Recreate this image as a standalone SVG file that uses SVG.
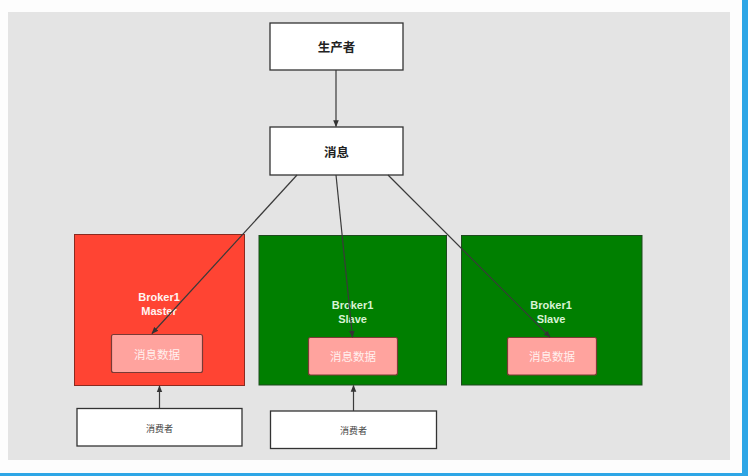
<svg xmlns="http://www.w3.org/2000/svg" width="748" height="476" viewBox="0 0 748 476">
<defs>
<marker id="ah" viewBox="0 0 10 10" refX="9" refY="5" markerWidth="7" markerHeight="7" orient="auto" markerUnits="userSpaceOnUse">
<path d="M0,1 L10,5 L0,9 Z" fill="#333"/>
</marker>
<style>
.box{fill:#ffffff;stroke:#333;stroke-width:1.3}
.red{fill:#ff4433;stroke:#8a2a20;stroke-width:1}
.green{fill:#007f00;stroke:#1f4a1f;stroke-width:1}
.inner{fill:#ffa39e;stroke:#7a3a35;stroke-width:1.2}
.edge{stroke:#3a3a3a;stroke-width:1.2;fill:none;marker-end:url(#ah)}
text{font-family:"Noto Sans CJK SC","Liberation Sans",sans-serif;text-anchor:middle;dominant-baseline:central}
.t1{font-size:12.5px;font-weight:bold;fill:#222}
.tb{font-family:"Liberation Sans","Noto Sans CJK SC",sans-serif;font-size:11px;font-weight:bold}
.ti{font-size:11.5px;fill:#fff0ee}
.tc{font-size:9px;fill:#444}
</style>
</defs>
<rect x="0" y="0" width="748" height="476" fill="#fdfdfd"/>
<rect x="742" y="0" width="6" height="476" fill="#2ea6e6"/>
<rect x="0" y="473" width="748" height="3" fill="#2ea6e6"/>
<rect x="8" y="12" width="722" height="448" fill="#e4e4e4"/>
<g id="producer">
<rect class="box" x="270" y="23" width="133" height="47"/>
<text class="t1" x="336.5" y="46.5">生产者</text>
</g>
<g id="message">
<rect class="box" x="270" y="127" width="133" height="48"/>
<text class="t1" x="336.5" y="151">消息</text>
</g>
<g id="master">
<rect class="red" x="74.5" y="234.5" width="170" height="151"/>
<text class="tb" x="159" y="297" fill="#fff4f2">Broker1</text>
<text class="tb" x="159" y="311" fill="#fff4f2">Master</text>
<rect class="inner" x="111.5" y="334.5" width="91" height="38" rx="2"/>
<text class="ti" x="157" y="353.5">消息数据</text>
</g>
<g id="slave1">
<rect class="green" x="259" y="235.5" width="187.5" height="149.5"/>
<text class="tb" x="352.5" y="304.5" fill="#d8f2d4">Broker1</text>
<text class="tb" x="352.5" y="318.5" fill="#d8f2d4">Slave</text>
<rect class="inner" x="308.5" y="337.5" width="89" height="37.5" rx="2"/>
<text class="ti" x="353" y="356">消息数据</text>
</g>
<g id="slave2">
<rect class="green" x="461.5" y="235.5" width="180.5" height="149.5"/>
<text class="tb" x="551" y="304.5" fill="#d8f2d4">Broker1</text>
<text class="tb" x="551" y="318.5" fill="#d8f2d4">Slave</text>
<rect class="inner" x="507.5" y="337.5" width="89" height="37.5" rx="2"/>
<text class="ti" x="552" y="356">消息数据</text>
</g>
<g id="consumer1">
<rect class="box" x="77" y="408.5" width="165" height="37.5"/>
<text class="tc" x="159.5" y="428">消费者</text>
</g>
<g id="consumer2">
<rect class="box" x="270.5" y="411" width="166" height="37.5"/>
<text class="tc" x="353.5" y="430.5">消费者</text>
</g>
<g id="connectors">
<line class="edge" x1="336" y1="70" x2="336" y2="126.5"/>
<line class="edge" x1="297" y1="175" x2="152" y2="333.5"/>
<line class="edge" x1="336" y1="175" x2="352.5" y2="337"/>
<line class="edge" x1="388" y1="175" x2="550" y2="337"/>
<line class="edge" x1="159.5" y1="408.5" x2="159.5" y2="386"/>
<line class="edge" x1="353.5" y1="411" x2="353.5" y2="385.5"/>
</g>
</svg>
